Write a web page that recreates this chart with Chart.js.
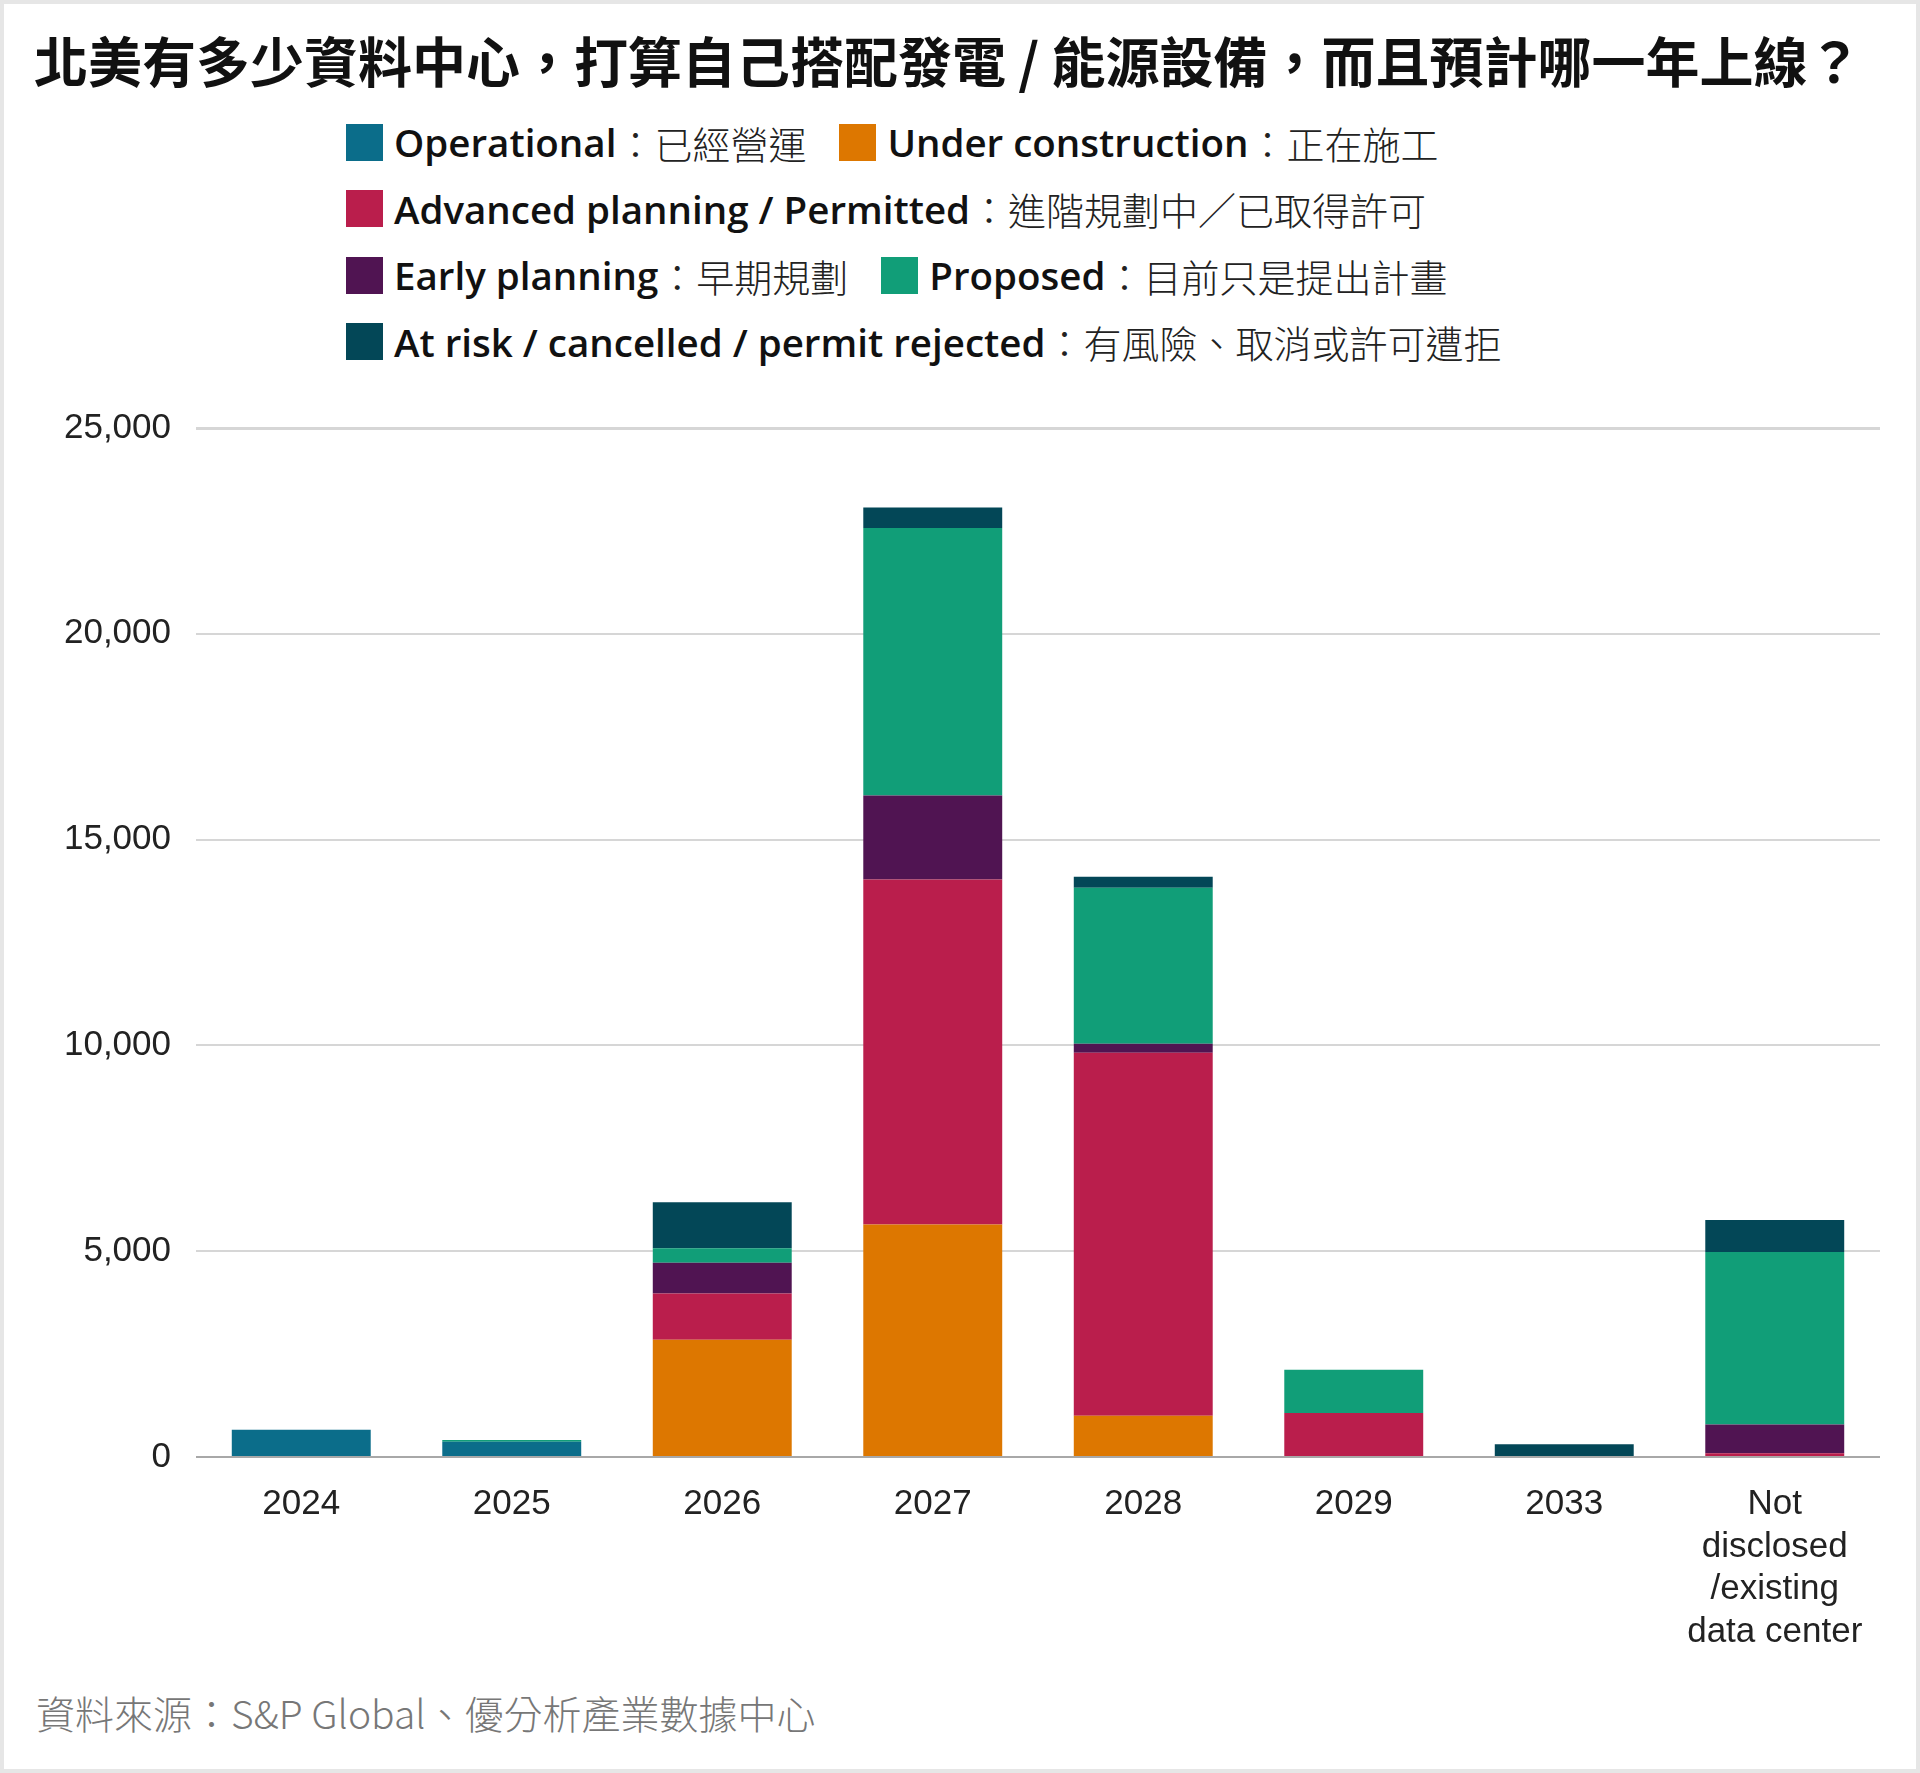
<!DOCTYPE html>
<html>
<head>
<meta charset="utf-8">
<script src="https://cdn.jsdelivr.net/npm/chart.js@4"></script>
<style>
  html, body { margin: 0; padding: 0; background: #fff; }
  #page {
    position: relative;
    width: 1920px;
    height: 1773px;
    box-sizing: border-box;
    border: 4px solid #e6e6e6;
    background: #fff;
    overflow: hidden;
  }
  #title {
    position: absolute;
    left: 30px;
    top: 24px;
    font-family: "Noto Sans CJK TC", sans-serif;
    font-weight: 700;
    font-size: 54px;
    line-height: 64px;
    color: #111;
    white-space: nowrap;
  }
  #legend {
    position: absolute;
    left: 342px;
    top: 105px;
  }
  .row { display: flex; align-items: center; height: 66.5px; }
  .item { display: flex; align-items: center; margin-right: 33px; white-space: nowrap; }
  .box { width: 37px; height: 37px; margin-right: 11px; }
  .en { font-family: "Open Sans", sans-serif; font-weight: 600; font-size: 38.5px; color: #111; }
  .zh { font-family: "Noto Sans CJK TC", sans-serif; font-weight: 300; font-size: 38px; color: #222; }
  #wrap {
    position: absolute;
    left: -4px;
    top: 376px;
    width: 1900px;
    height: 1277px;
  }
  #source {
    position: absolute;
    left: 32px;
    top: 1680px;
    font-family: "Noto Sans CJK TC", sans-serif;
    font-weight: 300;
    font-size: 39px;
    color: #777;
    white-space: nowrap;
  }
</style>
</head>
<body>
<div id="page">
  <div id="title">北美有多少資料中心，打算自己搭配發電 / 能源設備，而且預計哪一年上線？</div>
  <div id="legend"></div>
  <div id="wrap"><canvas id="myChart"></canvas></div>
  <div id="source">資料來源：S&amp;P Global、優分析產業數據中心</div>
</div>
<script>
// categories on the x axis
var years = ["2024", "2025", "2026", "2027", "2028", "2029", "2033",
  ["Not", "disclosed", "/existing", "data center"]];

// series, bottom to top of each stack
var seriesEn = [
  "Operational",
  "Under construction",
  "Advanced planning / Permitted",
  "Early planning",
  "Proposed",
  "At risk / cancelled / permit rejected"
];
var seriesZh = [
  "已經營運",
  "正在施工",
  "進階規劃中／已取得許可",
  "早期規劃",
  "目前只是提出計畫",
  "有風險、取消或許可遭拒"
];
var colors = ["#0b6d8a", "#dd7700", "#ba1e4c", "#501452", "#119e78", "#034757"];

var operational  = [660, 370, 0, 0, 0, 0, 0, 0];
var construction = [0, 0, 2850, 5650, 1000, 0, 0, 0];
var advanced     = [0, 0, 1120, 8380, 8820, 1070, 0, 90];
var early        = [0, 0, 750, 2040, 220, 0, 0, 700];
var proposed     = [0, 40, 350, 6500, 3790, 1050, 0, 4190];
var atRisk       = [0, 0, 1120, 500, 270, 0, 310, 780];

var yTicks = [0, 5000, 10000, 15000, 20000, 25000];

// which legend entries share a row
var legendRows = [[0, 1], [2], [3, 4], [5]];

var values = [operational, construction, advanced, early, proposed, atRisk];

// html legend, english part bold, chinese part light
var legend = document.getElementById("legend");
legendRows.forEach(function(row) {
  var r = document.createElement("div");
  r.className = "row";
  row.forEach(function(i) {
    var it = document.createElement("div");
    it.className = "item";
    it.innerHTML =
      '<span class="box" style="background:' + colors[i] + '"></span>' +
      '<span class="en">' + seriesEn[i] + '</span>' +
      '<span class="zh">：' + seriesZh[i] + '</span>';
    r.appendChild(it);
  });
  legend.appendChild(r);
});

var ctx = document.getElementById("myChart").getContext("2d");
var myChart = new Chart(ctx, {
  type: "bar",
  data: {
    labels: years,
    datasets: values.map(function(v, i) {
      return {
        label: seriesEn[i],
        data: v,
        backgroundColor: colors[i],
        borderWidth: 0,
        barPercentage: 0.66,
        categoryPercentage: 1
      };
    })
  },
  options: {
    responsive: true,
    maintainAspectRatio: false,
    animation: false,
    layout: { padding: { top: 48, right: 20, bottom: 0, left: 0 } },
    plugins: {
      legend: { display: false },
      tooltip: { enabled: false }
    },
    scales: {
      x: {
        stacked: true,
        grid: { display: false },
        border: { display: false },
        ticks: {
          color: "#222",
          padding: 18,
          maxRotation: 0,
          autoSkip: false,
          font: { family: "Liberation Sans", size: 35, lineHeight: 1.22 }
        },
        afterFit: function(s) { s.height = 200; }
      },
      y: {
        stacked: true,
        min: 0,
        max: 25000,
        afterBuildTicks: function(s) {
          s.ticks = yTicks.map(function(t) { return { value: t }; });
        },
        border: { display: false },
        grid: {
          drawTicks: false,
          lineWidth: function(c) { return c.tick && c.tick.value === 25000 ? 3 : 2; },
          color: function(c) { return c.tick && c.tick.value === 0 ? "#a8a8a8" : "#d6d6d6"; }
        },
        ticks: {
          color: "#222",
          padding: 25,
          font: { family: "Liberation Sans", size: 35 },
          callback: function(v) { return v.toLocaleString("en-US"); }
        },
        afterFit: function(s) { s.width = 196; }
      }
    }
  }
});
</script>
</body>
</html>
